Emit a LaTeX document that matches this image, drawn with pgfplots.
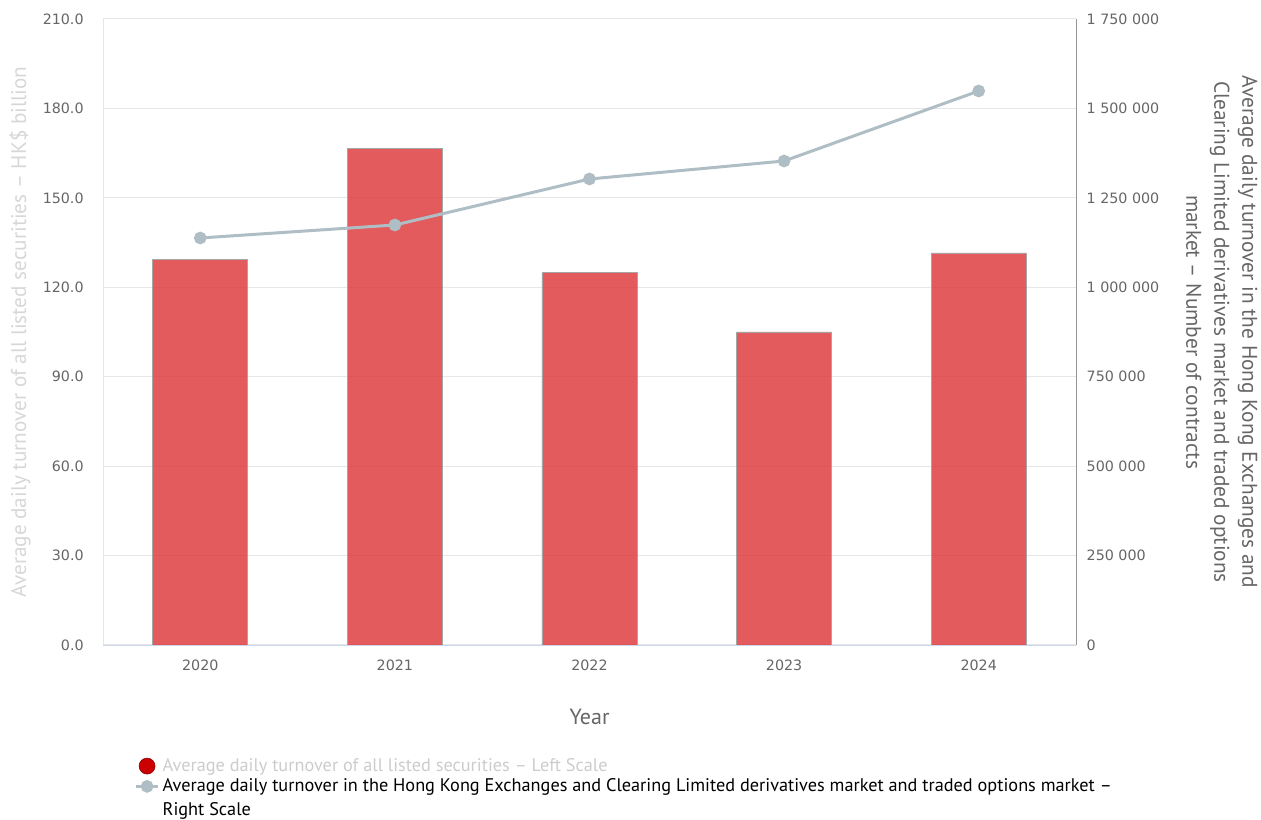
\documentclass[border=0pt]{standalone}
\usepackage{pgfplots}
\pgfplotsset{compat=1.18}
\usepackage{fontspec}
\setmainfont{PT Sans}
\newfontfamily\tickfont{DejaVu Sans}
\definecolor{barred}{RGB}{220,50,52}
\definecolor{linegray}{RGB}{175,190,197}
\definecolor{ticktext}{RGB}{102,102,102}
\definecolor{gridc}{RGB}{230,230,230}
\definecolor{lefttitle}{RGB}{215,215,215}
\definecolor{legendgray}{RGB}{204,204,204}
\definecolor{xaxisc}{RGB}{204,214,235}
\definecolor{rightaxis}{RGB}{150,150,150}
\definecolor{legendred}{RGB}{204,0,0}

\begin{document}
\begin{tikzpicture}
\useasboundingbox (0,0) rectangle (945.75pt,615pt);
\begin{axis}[
  at={(77.25pt,131.25pt)}, anchor=south west,
  scale only axis, width=729.75pt, height=469.5pt,
  xmin=-0.5, xmax=4.5, ymin=0, ymax=210,
  axis x line*=bottom, axis y line*=left,
  x axis line style={xaxisc, -},
  y axis line style={gridc, -},
  major tick length=0pt,
  xtick={0,1,2,3,4},
  xticklabels={2020,2021,2022,2023,2024},
  ytick={0,30,...,210},
  y tick label style={/pgf/number format/fixed, /pgf/number format/fixed zerofill, /pgf/number format/precision=1, /tikz/xshift=-11pt},
  /pgf/number format/assume math mode=true,
  tick label style={font=\tickfont\fontsize{10.7}{12}\selectfont, text=ticktext},
  xticklabel style={yshift=-8pt},
  ymajorgrids, grid style={gridc, line width=0.75pt},
  xlabel={Year},
  xlabel style={font=\fontsize{16.5}{18}\selectfont, text=ticktext, at={(axis description cs:0.5,-0.115)}, anchor=center},
  ylabel={Average daily turnover of all listed securities – HK\$ billion},
  ylabel style={font=\fontsize{15.9}{18}\selectfont, text=lefttitle, at={(axis description cs:-0.0853,0.5)}, anchor=center},
]
\addplot[ybar, bar width=71.25pt, fill=barred, fill opacity=0.8, draw=gray!70, line width=0.6pt]
  coordinates {(0,129.3) (1,166.5) (2,124.9) (3,105.0) (4,131.5)};
\end{axis}
\begin{axis}[
  at={(77.25pt,131.25pt)}, anchor=south west,
  scale only axis, width=729.75pt, height=469.5pt,
  xmin=-0.5, xmax=4.5, ymin=0, ymax=1750000,
  axis x line=none, axis y line*=right,
  y axis line style={rightaxis, -, line width=0.75pt},
  major tick length=0pt,
  scaled y ticks=false,
  ytick={0,250000,500000,750000,1000000,1250000,1500000,1750000},
  yticklabels={0,250 000,500 000,750 000,1 000 000,1 250 000,1 500 000,1 750 000},
  tick label style={font=\tickfont\fontsize{10.7}{12}\selectfont, text=ticktext},
  yticklabel style={xshift=4.5pt},
  ylabel={Average daily turnover in the Hong Kong Exchanges and\\Clearing Limited derivatives market and traded options\\market – Number of contracts},
  ylabel style={font=\fontsize{16}{21}\selectfont, text=ticktext, align=center, rotate=180, at={(axis description cs:1.150,0.5)}, anchor=center},
  legend style={at={(axis description cs:0.0277,-0.1725)}, anchor=north west, draw=none, fill=none,
    font=\fontsize{13.7}{18}\selectfont, row sep=0pt, cells={anchor=west, align=left}},
]
\addlegendimage{legend image code/.code={\fill[draw=red!50!black, fill=legendred] (0.3cm,0cm) circle (6pt);}}
\addlegendentry{\color{legendgray}Average daily turnover of all listed securities – Left Scale}
\addplot[linegray, line width=2.25pt, mark=*, mark size=3.6pt, mark options={fill=linegray, draw=none},
  legend image code/.code={\path[draw=none, fill=none] (0.3cm,-0.317cm) circle (0.1pt);
    \draw[linegray, line width=2.25pt] (0cm,0.317cm) -- (0.6cm,0.317cm);
    \fill[linegray] (0.3cm,0.317cm) circle (3.6pt);}]
  coordinates {(0,1137800) (1,1174100) (2,1302700) (3,1353000) (4,1548700)};
\addlegendentry{Average daily turnover in the Hong Kong Exchanges and Clearing Limited derivatives market and traded options market –\\Right Scale}
\end{axis}
\end{tikzpicture}
\end{document}
